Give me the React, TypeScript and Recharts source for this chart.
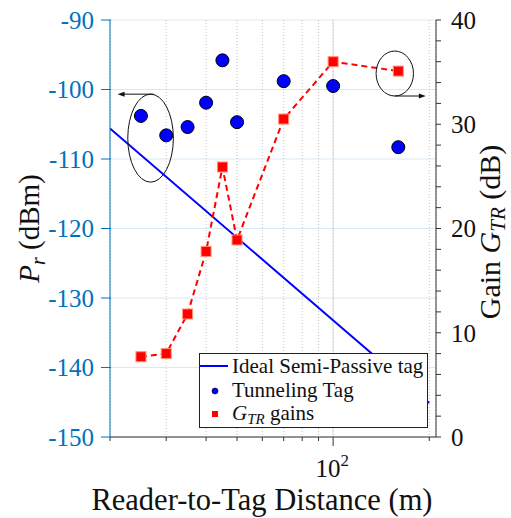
import {
  ComposedChart,
  Line,
  Scatter,
  XAxis,
  YAxis,
  CartesianGrid,
  ReferenceLine,
  ReferenceDot,
  Legend,
} from 'recharts';

/* ------------------------------------------------------------------ */
/*  Data                                           */
/* ------------------------------------------------------------------ */

const distanceTicks = [20, 30, 40, 50, 60, 70, 80, 90, 100, 200];
const powerTicks = [-150, -140, -130, -120, -110, -100, -90];
const gainTicks = [0, 2, 4, 6, 8, 10, 12, 14, 16, 18, 20, 22, 24, 26, 28, 30, 32, 34, 36, 38, 40];

// measurement distances (m)
const measuredDistance = [25, 30, 35, 40, 45, 50, 70, 100, 160];
// tunneling tag received power (dBm), left axis
const tunnelingPower = [-103.8, -106.6, -105.4, -101.9, -95.8, -104.7, -98.8, -99.5, -108.3];
// G_TR gains (dB), right axis
const gainValues = [7.7, 8.0, 11.8, 17.8, 25.9, 18.9, 30.5, 36.0, 35.1];

// ideal semi-passive tag, end points of the straight (log-x) line
const idealDistance = [20, 200];
const idealPower = [-105.6, -145.1];

// callout ellipses (centre in data units), arrow side tells which axis
const callouts = [
  { d: 26.8, p: -107, side: 'left' },
  { d: 156, p: -97.7, side: 'right' },
];

const tunnelingData = measuredDistance.map((d, i) => ({ d, p: tunnelingPower[i] }));
const gainData = measuredDistance.map((d, i) => ({ d, g: gainValues[i] }));
const idealData = idealDistance.map((d, i) => ({ d, p: idealPower[i] }));

/* ------------------------------------------------------------------ */
/*  Styling                                                            */
/* ------------------------------------------------------------------ */

const FONT = 'Liberation Serif';
const AXIS_BLUE = '#0072BD';
const TICK_FONT = 25;

/* ------------------------------------------------------------------ */
/*  Ticks and titles                                                   */
/* ------------------------------------------------------------------ */

function LeftTick({ x, y, payload }: any) {
  return (
    <g>
      <line x1={x - 9} x2={x + 1} y1={y} y2={y} stroke={AXIS_BLUE} />
      <text x={x - 16} y={y} dy="0.35em" textAnchor="end" fill={AXIS_BLUE} fontSize={TICK_FONT} fontFamily={FONT}>
        {payload.value}
      </text>
    </g>
  );
}

function RightTick({ x, y, payload }: any) {
  const major = payload.value % 10 === 0;
  return (
    <g>
      <line x1={x} x2={x + 5} y1={y} y2={y} stroke="#333" />
      {major && (
        <text x={x + 15} y={y} dy="0.35em" textAnchor="start" fill="#111" fontSize={TICK_FONT} fontFamily={FONT}>
          {payload.value}
        </text>
      )}
    </g>
  );
}

function BottomTick({ x, y, payload }: any) {
  const major = payload.value === 100;
  return (
    <g>
      <line x1={x} x2={x} y1={y} y2={y + (major ? 9 : 4)} stroke="#333" />
      {major && (
        <text x={x - 1} y={y + 40} textAnchor="middle" fill="#111" fontSize={TICK_FONT} fontFamily={FONT}>
          <tspan>10</tspan>
          <tspan dy={-11} fontSize={17}>2</tspan>
        </text>
      )}
    </g>
  );
}

function TopTick({ x, y, payload }: any) {
  if (payload.value === 20) return <g />;
  const major = payload.value === 100;
  return <line x1={x} x2={x} y1={y} y2={major ? y - 8 : y + 4} stroke="#333" />;
}

function LeftTitle({ viewBox }: any) {
  const cx = viewBox.x + 19;
  const cy = viewBox.y + viewBox.height / 2;
  return (
    <text x={cx} y={cy} transform={`rotate(-90, ${cx}, ${cy})`} textAnchor="middle" dy="0.35em" fontSize={29} fontFamily={FONT} fill="#111">
      <tspan fontStyle="italic">P</tspan>
      <tspan fontStyle="italic" fontSize={20} dy={6}>r</tspan>
      <tspan dy={-6}> (dBm)</tspan>
    </text>
  );
}

function RightTitle({ viewBox }: any) {
  const cx = viewBox.x + 53;
  const cy = 232;
  return (
    <text x={cx} y={cy} transform={`rotate(-90, ${cx}, ${cy})`} textAnchor="middle" dy="0.35em" fontSize={30} fontFamily={FONT} fill="#111">
      <tspan>Gain </tspan>
      <tspan fontStyle="italic">G</tspan>
      <tspan fontStyle="italic" fontSize={21} dy={5}>TR</tspan>
      <tspan dy={-5}> (dB)</tspan>
    </text>
  );
}

function BottomTitle({ viewBox }: any) {
  return (
    <text x={viewBox.x + 152} y={viewBox.y + 73} textAnchor="middle" fontSize={30.5} fontFamily={FONT} fill="#111">
      Reader-to-Tag Distance (m)
    </text>
  );
}

/* ------------------------------------------------------------------ */
/*  Callout ellipse with arrow                                         */
/* ------------------------------------------------------------------ */

function Callout({ cx, cy, side }: any) {
  if (cx == null || cy == null) return <g />;
  const rx = side === 'left' ? 22.8 : 18.7;
  const ry = side === 'left' ? 44 : 22.5;
  const ay = side === 'left' ? cy - ry : cy + ry;
  const x0 = side === 'left' ? cx + 3 : cx;
  const x1 = side === 'left' ? cx - 33 : cx + 31;
  const head = side === 'left' ? 7 : -7;
  return (
    <g>
      <ellipse cx={cx} cy={cy} rx={rx} ry={ry} fill="none" stroke="#111" strokeWidth={1} />
      <line x1={x0} y1={ay} x2={x1 + head * 0.6} y2={ay} stroke="#111" strokeWidth={1} />
      <polygon points={`${x1},${ay} ${x1 + head},${ay - 2.5} ${x1 + head},${ay + 2.5}`} fill="#111" />
    </g>
  );
}

/* ------------------------------------------------------------------ */
/*  Legend box                                                         */
/* ------------------------------------------------------------------ */

function LegendBox() {
  return (
    <svg width={230} height={76} style={{ display: 'block' }}>
      <rect x={0.5} y={0.5} width={228} height={74} fill="#fff" stroke="#222" />
      <line x1={1} x2={29} y1={13} y2={13} stroke="#0000ff" strokeWidth={2} />
      <text x={33} y={20} fontSize={21} fontFamily={FONT} fill="#111">Ideal Semi-Passive tag</text>
      <circle cx={16} cy={38} r={3} fill="#0000ff" stroke="#000" strokeWidth={0.6} />
      <text x={33} y={44} fontSize={21} fontFamily={FONT} fill="#111">Tunneling Tag</text>
      <rect x={13} y={58} width={6} height={6} fill="#ff0000" />
      <text x={33} y={67} fontSize={21} fontFamily={FONT} fill="#111">
        <tspan fontStyle="italic">G</tspan>
        <tspan fontStyle="italic" fontSize={15} dy={4}>TR</tspan>
        <tspan dy={-4}> gains</tspan>
      </text>
    </svg>
  );
}

/* ------------------------------------------------------------------ */
/*  Component                                                          */
/* ------------------------------------------------------------------ */

export default function App() {
  return (
    <div style={{ position: 'absolute', left: 0, top: 0, width: 511, height: 518, background: '#fff' }}>
      <ComposedChart width={511} height={518} margin={{ top: 20, right: 10, bottom: 21, left: 10 }}>
        <CartesianGrid yAxisId="left" vertical={false} stroke="#d7e9f6" />
        <CartesianGrid yAxisId="left" horizontal={false} stroke="#c4c4c4" strokeDasharray="1 2" />
        <ReferenceLine yAxisId="left" x={100} stroke="#dadada" />

        <XAxis
          dataKey="d"
          type="number"
          scale="log"
          domain={[20, 210]}
          allowDataOverflow
          ticks={distanceTicks}
          height={60}
          stroke="#333"
          tickLine={false}
          tickSize={0}
          tickMargin={0}
          interval={0}
          tick={<BottomTick />}
          label={{ content: <BottomTitle /> } as any}
        />
        <XAxis
          xAxisId="top"
          orientation="top"
          dataKey="d"
          type="number"
          scale="log"
          domain={[20, 210]}
          allowDataOverflow
          ticks={distanceTicks}
          height={0}
          stroke="#333"
          tickLine={false}
          tickSize={0}
          tickMargin={0}
          interval={0}
          tick={<TopTick />}
        />
        <YAxis
          yAxisId="left"
          dataKey="p"
          type="number"
          domain={[-150, -90]}
          allowDataOverflow
          ticks={powerTicks}
          width={100}
          stroke={AXIS_BLUE}
          tickLine={false}
          tickSize={0}
          tickMargin={0}
          interval={0}
          tick={<LeftTick />}
          label={{ content: <LeftTitle /> } as any}
        />
        <YAxis
          yAxisId="right"
          orientation="right"
          dataKey="g"
          type="number"
          domain={[0, 40]}
          allowDataOverflow
          ticks={gainTicks}
          width={65}
          stroke="#333"
          tickLine={false}
          tickSize={0}
          tickMargin={0}
          interval={0}
          tick={<RightTick />}
          label={{ content: <RightTitle /> } as any}
        />

        {/* Ideal semi-passive tag — straight line in log distance */}
        <Line
          yAxisId="left"
          data={idealData}
          dataKey="p"
          type="linear"
          stroke="#0000ff"
          strokeWidth={2}
          dot={false}
          activeDot={false}
          isAnimationActive={false}
        />

        {/* G_TR gains — dashed line with square markers */}
        <Line
          yAxisId="right"
          data={gainData}
          dataKey="g"
          type="linear"
          stroke="#ff0000"
          strokeWidth={2}
          strokeDasharray="6 4"
          activeDot={false}
          isAnimationActive={false}
          dot={(p: any) => (
            <rect
              key={`sq-${p.index}`}
              x={p.cx - 5}
              y={p.cy - 5}
              width={10}
              height={10}
              fill="#ff0000"
              stroke="#ff9070"
              strokeWidth={1}
            />
          )}
        />

        {/* Tunneling tag measurements */}
        <Scatter
          yAxisId="left"
          data={tunnelingData}
          dataKey="p"
          isAnimationActive={false}
          shape={(p: any) => <circle cx={p.cx} cy={p.cy} r={6.5} fill="#0000ff" stroke="#000" strokeWidth={1} />}
        />

        {callouts.map((c) => (
          <ReferenceDot
            key={c.side}
            yAxisId="left"
            x={c.d}
            y={c.p}
            ifOverflow="visible"
            shape={(p: any) => <Callout cx={p.cx} cy={p.cy} side={c.side} />}
          />
        ))}

        <Legend
          layout="vertical"
          verticalAlign="middle"
          align="center"
          wrapperStyle={{ left: 199, top: 353, width: 230, height: 76 }}
          content={() => <LegendBox />}
        />
      </ComposedChart>
    </div>
  );
}
